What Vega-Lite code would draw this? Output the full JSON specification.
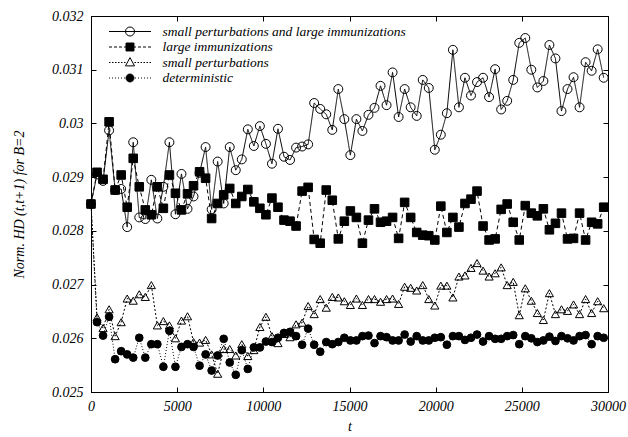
{
"$schema": "https://vega.github.io/schema/vega-lite/v6.json",
"width": 517, "height": 376,
"autosize": {"type": "none"},
"padding": {"left": 91, "top": 16, "right": 20, "bottom": 45},
"background": "white",
"data": {"values": [
{"t":0,"s":"A","v":0.02850},{"t":350,"s":"A","v":0.02905},{"t":700,"s":"A","v":0.02893},{"t":1050,"s":"A","v":0.02987},{"t":1400,"s":"A","v":0.02876},{"t":1750,"s":"A","v":0.02878},{"t":2100,"s":"A","v":0.02807},{"t":2450,"s":"A","v":0.02965},{"t":2800,"s":"A","v":0.02825},{"t":3150,"s":"A","v":0.02822},{"t":3500,"s":"A","v":0.02895},{"t":3850,"s":"A","v":0.02823},{"t":4200,"s":"A","v":0.02882},{"t":4550,"s":"A","v":0.02965},{"t":4900,"s":"A","v":0.02831},{"t":5250,"s":"A","v":0.02906},{"t":5600,"s":"A","v":0.02841},{"t":5950,"s":"A","v":0.02864},{"t":6300,"s":"A","v":0.02908},{"t":6650,"s":"A","v":0.02956},{"t":7000,"s":"A","v":0.02840},{"t":7350,"s":"A","v":0.02929},{"t":7700,"s":"A","v":0.02851},{"t":8050,"s":"A","v":0.02956},{"t":8400,"s":"A","v":0.02913},{"t":8750,"s":"A","v":0.02933},{"t":9100,"s":"A","v":0.02989},{"t":9450,"s":"A","v":0.02958},{"t":9800,"s":"A","v":0.02995},{"t":10150,"s":"A","v":0.02962},{"t":10500,"s":"A","v":0.02925},{"t":10850,"s":"A","v":0.02990},{"t":11200,"s":"A","v":0.02938},{"t":11550,"s":"A","v":0.02932},{"t":11900,"s":"A","v":0.02955},{"t":12250,"s":"A","v":0.02957},{"t":12600,"s":"A","v":0.02961},{"t":12950,"s":"A","v":0.03038},{"t":13300,"s":"A","v":0.03027},{"t":13650,"s":"A","v":0.03017},{"t":14000,"s":"A","v":0.02988},{"t":14350,"s":"A","v":0.03064},{"t":14700,"s":"A","v":0.03008},{"t":15050,"s":"A","v":0.02941},{"t":15400,"s":"A","v":0.03008},{"t":15750,"s":"A","v":0.02986},{"t":16100,"s":"A","v":0.03016},{"t":16450,"s":"A","v":0.03029},{"t":16800,"s":"A","v":0.03070},{"t":17150,"s":"A","v":0.03034},{"t":17500,"s":"A","v":0.03095},{"t":17850,"s":"A","v":0.03012},{"t":18200,"s":"A","v":0.03064},{"t":18550,"s":"A","v":0.03030},{"t":18900,"s":"A","v":0.03014},{"t":19250,"s":"A","v":0.03081},{"t":19600,"s":"A","v":0.03066},{"t":19950,"s":"A","v":0.02951},{"t":20300,"s":"A","v":0.02979},{"t":20650,"s":"A","v":0.03019},{"t":21000,"s":"A","v":0.03137},{"t":21350,"s":"A","v":0.03030},{"t":21700,"s":"A","v":0.03085},{"t":22050,"s":"A","v":0.03052},{"t":22400,"s":"A","v":0.03077},{"t":22750,"s":"A","v":0.03085},{"t":23100,"s":"A","v":0.03049},{"t":23450,"s":"A","v":0.03101},{"t":23800,"s":"A","v":0.03026},{"t":24150,"s":"A","v":0.03042},{"t":24500,"s":"A","v":0.03081},{"t":24850,"s":"A","v":0.03150},{"t":25200,"s":"A","v":0.03159},{"t":25550,"s":"A","v":0.03100},{"t":25900,"s":"A","v":0.03067},{"t":26250,"s":"A","v":0.03079},{"t":26600,"s":"A","v":0.03146},{"t":26950,"s":"A","v":0.03121},{"t":27300,"s":"A","v":0.03023},{"t":27650,"s":"A","v":0.03064},{"t":28000,"s":"A","v":0.03086},{"t":28350,"s":"A","v":0.03030},{"t":28700,"s":"A","v":0.03114},{"t":29050,"s":"A","v":0.03098},{"t":29400,"s":"A","v":0.03138},{"t":29750,"s":"A","v":0.03085},
{"t":0,"s":"L","v":0.02850},{"t":350,"s":"L","v":0.02909},{"t":700,"s":"L","v":0.02896},{"t":1050,"s":"L","v":0.03003},{"t":1400,"s":"L","v":0.02876},{"t":1750,"s":"L","v":0.02904},{"t":2100,"s":"L","v":0.02844},{"t":2450,"s":"L","v":0.02935},{"t":2800,"s":"L","v":0.02882},{"t":3150,"s":"L","v":0.02839},{"t":3500,"s":"L","v":0.02830},{"t":3850,"s":"L","v":0.02882},{"t":4200,"s":"L","v":0.02842},{"t":4550,"s":"L","v":0.02904},{"t":4900,"s":"L","v":0.02870},{"t":5250,"s":"L","v":0.02839},{"t":5600,"s":"L","v":0.02869},{"t":5950,"s":"L","v":0.02884},{"t":6300,"s":"L","v":0.02910},{"t":6650,"s":"L","v":0.02898},{"t":7000,"s":"L","v":0.02823},{"t":7350,"s":"L","v":0.02851},{"t":7700,"s":"L","v":0.02867},{"t":8050,"s":"L","v":0.02879},{"t":8400,"s":"L","v":0.02851},{"t":8750,"s":"L","v":0.02864},{"t":9100,"s":"L","v":0.02877},{"t":9450,"s":"L","v":0.02854},{"t":9800,"s":"L","v":0.02842},{"t":10150,"s":"L","v":0.02830},{"t":10500,"s":"L","v":0.02861},{"t":10850,"s":"L","v":0.02844},{"t":11200,"s":"L","v":0.02820},{"t":11550,"s":"L","v":0.02818},{"t":11900,"s":"L","v":0.02809},{"t":12250,"s":"L","v":0.02874},{"t":12600,"s":"L","v":0.02881},{"t":12950,"s":"L","v":0.02784},{"t":13300,"s":"L","v":0.02777},{"t":13650,"s":"L","v":0.02876},{"t":14000,"s":"L","v":0.02857},{"t":14350,"s":"L","v":0.02785},{"t":14700,"s":"L","v":0.02818},{"t":15050,"s":"L","v":0.02837},{"t":15400,"s":"L","v":0.02825},{"t":15750,"s":"L","v":0.02777},{"t":16100,"s":"L","v":0.02820},{"t":16450,"s":"L","v":0.02841},{"t":16800,"s":"L","v":0.02816},{"t":17150,"s":"L","v":0.02818},{"t":17500,"s":"L","v":0.02825},{"t":17850,"s":"L","v":0.02786},{"t":18200,"s":"L","v":0.02853},{"t":18550,"s":"L","v":0.02825},{"t":18900,"s":"L","v":0.02797},{"t":19250,"s":"L","v":0.02792},{"t":19600,"s":"L","v":0.02791},{"t":19950,"s":"L","v":0.02783},{"t":20300,"s":"L","v":0.02846},{"t":20650,"s":"L","v":0.02797},{"t":21000,"s":"L","v":0.02825},{"t":21350,"s":"L","v":0.02807},{"t":21700,"s":"L","v":0.02851},{"t":22050,"s":"L","v":0.02859},{"t":22400,"s":"L","v":0.02874},{"t":22750,"s":"L","v":0.02809},{"t":23100,"s":"L","v":0.02783},{"t":23450,"s":"L","v":0.02785},{"t":23800,"s":"L","v":0.02840},{"t":24150,"s":"L","v":0.02850},{"t":24500,"s":"L","v":0.02816},{"t":24850,"s":"L","v":0.02783},{"t":25200,"s":"L","v":0.02847},{"t":25550,"s":"L","v":0.02833},{"t":25900,"s":"L","v":0.02828},{"t":26250,"s":"L","v":0.02841},{"t":26600,"s":"L","v":0.02802},{"t":26950,"s":"L","v":0.02814},{"t":27300,"s":"L","v":0.02833},{"t":27650,"s":"L","v":0.02785},{"t":28000,"s":"L","v":0.02786},{"t":28350,"s":"L","v":0.02833},{"t":28700,"s":"L","v":0.02783},{"t":29050,"s":"L","v":0.02816},{"t":29400,"s":"L","v":0.02813},{"t":29750,"s":"L","v":0.02844},
{"t":0,"s":"P","v":0.02850},{"t":350,"s":"P","v":0.02639},{"t":700,"s":"P","v":0.02619},{"t":1050,"s":"P","v":0.02654},{"t":1400,"s":"P","v":0.02604},{"t":1750,"s":"P","v":0.02630},{"t":2100,"s":"P","v":0.02674},{"t":2450,"s":"P","v":0.02670},{"t":2800,"s":"P","v":0.02682},{"t":3150,"s":"P","v":0.02677},{"t":3500,"s":"P","v":0.02699},{"t":3850,"s":"P","v":0.02624},{"t":4200,"s":"P","v":0.02632},{"t":4550,"s":"P","v":0.02624},{"t":4900,"s":"P","v":0.02600},{"t":5250,"s":"P","v":0.02633},{"t":5600,"s":"P","v":0.02641},{"t":5950,"s":"P","v":0.02593},{"t":6300,"s":"P","v":0.02592},{"t":6650,"s":"P","v":0.02597},{"t":7000,"s":"P","v":0.02570},{"t":7350,"s":"P","v":0.02534},{"t":7700,"s":"P","v":0.02580},{"t":8050,"s":"P","v":0.02580},{"t":8400,"s":"P","v":0.02568},{"t":8750,"s":"P","v":0.02589},{"t":9100,"s":"P","v":0.02567},{"t":9450,"s":"P","v":0.02578},{"t":9800,"s":"P","v":0.02621},{"t":10150,"s":"P","v":0.02640},{"t":10500,"s":"P","v":0.02604},{"t":10850,"s":"P","v":0.02591},{"t":11200,"s":"P","v":0.02608},{"t":11550,"s":"P","v":0.02602},{"t":11900,"s":"P","v":0.02626},{"t":12250,"s":"P","v":0.02629},{"t":12600,"s":"P","v":0.02660},{"t":12950,"s":"P","v":0.02645},{"t":13300,"s":"P","v":0.02673},{"t":13650,"s":"P","v":0.02657},{"t":14000,"s":"P","v":0.02677},{"t":14350,"s":"P","v":0.02676},{"t":14700,"s":"P","v":0.02669},{"t":15050,"s":"P","v":0.02662},{"t":15400,"s":"P","v":0.02674},{"t":15750,"s":"P","v":0.02662},{"t":16100,"s":"P","v":0.02673},{"t":16450,"s":"P","v":0.02673},{"t":16800,"s":"P","v":0.02668},{"t":17150,"s":"P","v":0.02673},{"t":17500,"s":"P","v":0.02674},{"t":17850,"s":"P","v":0.02664},{"t":18200,"s":"P","v":0.02696},{"t":18550,"s":"P","v":0.02694},{"t":18900,"s":"P","v":0.02689},{"t":19250,"s":"P","v":0.02699},{"t":19600,"s":"P","v":0.02673},{"t":19950,"s":"P","v":0.02661},{"t":20300,"s":"P","v":0.02698},{"t":20650,"s":"P","v":0.02698},{"t":21000,"s":"P","v":0.02676},{"t":21350,"s":"P","v":0.02715},{"t":21700,"s":"P","v":0.02717},{"t":22050,"s":"P","v":0.02731},{"t":22400,"s":"P","v":0.02740},{"t":22750,"s":"P","v":0.02726},{"t":23100,"s":"P","v":0.02715},{"t":23450,"s":"P","v":0.02721},{"t":23800,"s":"P","v":0.02732},{"t":24150,"s":"P","v":0.02699},{"t":24500,"s":"P","v":0.02705},{"t":24850,"s":"P","v":0.02643},{"t":25200,"s":"P","v":0.02693},{"t":25550,"s":"P","v":0.02670},{"t":25900,"s":"P","v":0.02647},{"t":26250,"s":"P","v":0.02634},{"t":26600,"s":"P","v":0.02684},{"t":26950,"s":"P","v":0.02645},{"t":27300,"s":"P","v":0.02654},{"t":27650,"s":"P","v":0.02651},{"t":28000,"s":"P","v":0.02663},{"t":28350,"s":"P","v":0.02645},{"t":28700,"s":"P","v":0.02673},{"t":29050,"s":"P","v":0.02647},{"t":29400,"s":"P","v":0.02669},{"t":29750,"s":"P","v":0.02656},
{"t":0,"s":"D","v":0.02850},{"t":350,"s":"D","v":0.02630},{"t":700,"s":"D","v":0.02605},{"t":1050,"s":"D","v":0.02640},{"t":1400,"s":"D","v":0.02561},{"t":1750,"s":"D","v":0.02576},{"t":2100,"s":"D","v":0.02570},{"t":2450,"s":"D","v":0.02564},{"t":2800,"s":"D","v":0.02601},{"t":3150,"s":"D","v":0.02564},{"t":3500,"s":"D","v":0.02589},{"t":3850,"s":"D","v":0.02589},{"t":4200,"s":"D","v":0.02547},{"t":4550,"s":"D","v":0.02614},{"t":4900,"s":"D","v":0.02547},{"t":5250,"s":"D","v":0.02584},{"t":5600,"s":"D","v":0.02589},{"t":5950,"s":"D","v":0.02584},{"t":6300,"s":"D","v":0.02549},{"t":6650,"s":"D","v":0.02570},{"t":7000,"s":"D","v":0.02540},{"t":7350,"s":"D","v":0.02568},{"t":7700,"s":"D","v":0.02599},{"t":8050,"s":"D","v":0.02555},{"t":8400,"s":"D","v":0.02532},{"t":8750,"s":"D","v":0.02578},{"t":9100,"s":"D","v":0.02543},{"t":9450,"s":"D","v":0.02583},{"t":9800,"s":"D","v":0.02583},{"t":10150,"s":"D","v":0.02594},{"t":10500,"s":"D","v":0.02593},{"t":10850,"s":"D","v":0.02601},{"t":11200,"s":"D","v":0.02610},{"t":11550,"s":"D","v":0.02612},{"t":11900,"s":"D","v":0.02604},{"t":12250,"s":"D","v":0.02588},{"t":12600,"s":"D","v":0.02618},{"t":12950,"s":"D","v":0.02588},{"t":13300,"s":"D","v":0.02575},{"t":13650,"s":"D","v":0.02593},{"t":14000,"s":"D","v":0.02589},{"t":14350,"s":"D","v":0.02593},{"t":14700,"s":"D","v":0.02601},{"t":15050,"s":"D","v":0.02596},{"t":15400,"s":"D","v":0.02596},{"t":15750,"s":"D","v":0.02604},{"t":16100,"s":"D","v":0.02605},{"t":16450,"s":"D","v":0.02591},{"t":16800,"s":"D","v":0.02604},{"t":17150,"s":"D","v":0.02602},{"t":17500,"s":"D","v":0.02596},{"t":17850,"s":"D","v":0.02596},{"t":18200,"s":"D","v":0.02607},{"t":18550,"s":"D","v":0.02594},{"t":18900,"s":"D","v":0.02604},{"t":19250,"s":"D","v":0.02596},{"t":19600,"s":"D","v":0.02596},{"t":19950,"s":"D","v":0.02601},{"t":20300,"s":"D","v":0.02602},{"t":20650,"s":"D","v":0.02588},{"t":21000,"s":"D","v":0.02604},{"t":21350,"s":"D","v":0.02604},{"t":21700,"s":"D","v":0.02597},{"t":22050,"s":"D","v":0.02601},{"t":22400,"s":"D","v":0.02607},{"t":22750,"s":"D","v":0.02594},{"t":23100,"s":"D","v":0.02604},{"t":23450,"s":"D","v":0.02599},{"t":23800,"s":"D","v":0.02599},{"t":24150,"s":"D","v":0.02604},{"t":24500,"s":"D","v":0.02606},{"t":24850,"s":"D","v":0.02589},{"t":25200,"s":"D","v":0.02604},{"t":25550,"s":"D","v":0.02600},{"t":25900,"s":"D","v":0.02593},{"t":26250,"s":"D","v":0.02596},{"t":26600,"s":"D","v":0.02603},{"t":26950,"s":"D","v":0.02595},{"t":27300,"s":"D","v":0.02604},{"t":27650,"s":"D","v":0.02600},{"t":28000,"s":"D","v":0.02596},{"t":28350,"s":"D","v":0.02604},{"t":28700,"s":"D","v":0.02606},{"t":29050,"s":"D","v":0.02589},{"t":29400,"s":"D","v":0.02604},{"t":29750,"s":"D","v":0.02601}
]},
"layer": [
 {
  "mark": {"type": "line", "stroke": "black", "strokeWidth": 1},
  "encoding": {
   "x": {"field": "t", "type": "quantitative", "scale": {"domain": [0, 30000], "nice": false, "zero": false},
         "axis": {"orient": "bottom", "values": [0,5000,10000,15000,20000,25000,30000], "format": "d", "tickSize": -5, "labelPadding": 12, "labelFlush": false, "title": "t", "titlePadding": 6}},
   "y": {"field": "v", "type": "quantitative", "scale": {"domain": [0.025, 0.032], "nice": false, "zero": false},
         "axis": {"orient": "left", "values": [0.025,0.026,0.027,0.028,0.029,0.03,0.031,0.032], "format": ".3~f", "tickSize": -5, "labelPadding": 13, "title": "Norm. HD (t,t+1) for B=2", "titlePadding": 25}},
   "strokeDash": {"field": "s", "type": "nominal", "scale": {"domain": ["A","L","P","D"], "range": [[1,0],[4,3],[2,2],[1,2]]}, "legend": null}
  }
 },
 {
  "mark": {"type": "point", "stroke": "black", "strokeWidth": 1, "opacity": 1},
  "encoding": {
   "x": {"field": "t", "type": "quantitative", "axis": {"orient": "top", "values": [0,5000,10000,15000,20000,25000,30000], "labels": false, "tickSize": -5, "title": null, "domain": false}},
   "y": {"field": "v", "type": "quantitative", "axis": {"orient": "right", "values": [0.025,0.026,0.027,0.028,0.029,0.03,0.031,0.032], "labels": false, "tickSize": -5, "title": null, "domain": false}},
   "shape": {"field": "s", "type": "nominal", "scale": {"domain": ["A","L","P","D"], "range": ["circle","square","triangle-up","circle"]}, "legend": null},
   "fill": {"field": "s", "type": "nominal", "scale": {"domain": ["A","L","P","D"], "range": ["transparent","black","transparent","black"]}, "legend": null},
   "size": {"field": "s", "type": "ordinal", "scale": {"domain": ["A","L","P","D"], "range": [80,60,70,60]}, "legend": null}
  }
 },
 {
  "transform": [{"filter": "false"}],
  "mark": {"type": "point", "strokeWidth": 1, "opacity": 1},
  "encoding": {
   "shape": {"field": "s", "type": "nominal",
     "scale": {"domain": ["A","L","P","D"], "range": [
       "M-2.8,0L2.8,0M-0.6,0A0.6,0.6,0,1,0,0.6,0A0.6,0.6,0,1,0,-0.6,0Z",
       "M-2.8,0L-2.4,0M-2.13,0L-1.73,0M-1.47,0L-1.07,0M-0.8,0L-0.53,0M0.53,0L0.8,0M1.07,0L1.47,0M1.73,0L2.13,0M2.4,0L2.8,0M-0.53,-0.53L0.53,-0.53L0.53,0.53L-0.53,0.53Z",
       "M-2.8,0L-2.6,0M-2.4,0L-2.2,0M-2,0L-1.8,0M-1.6,0L-1.4,0M-1.2,0L-1,0M-0.8,0L-0.6,0M0.6,0L0.8,0M1,0L1.2,0M1.4,0L1.6,0M1.8,0L2,0M2.2,0L2.4,0M2.6,0L2.8,0M0,-0.65L0.6,0.45L-0.6,0.45Z",
       "M-2.8,0L-2.67,0M-2.4,0L-2.27,0M-2,0L-1.87,0M-1.6,0L-1.47,0M-1.2,0L-1.07,0M-0.8,0L-0.67,0M0.67,0L0.8,0M1.07,0L1.2,0M1.47,0L1.6,0M1.87,0L2,0M2.27,0L2.4,0M2.67,0L2.8,0M-0.53,0A0.53,0.53,0,1,0,0.53,0A0.53,0.53,0,1,0,-0.53,0Z"]},
     "legend": {"title": null, "orient": "none", "legendX": 31, "legendY": 7.5,
       "labelExpr": "datum.value == 'A' ? 'small perturbations and large immunizations' : datum.value == 'L' ? 'large immunizations' : datum.value == 'P' ? 'small perturbations' : 'deterministic'"}},
   "fill": {"field": "s", "type": "nominal", "scale": {"domain": ["A","L","P","D"], "range": ["transparent","black","transparent","black"]},
     "legend": {"title": null, "orient": "none", "legendX": 31, "legendY": 7.5,
       "labelExpr": "datum.value == 'A' ? 'small perturbations and large immunizations' : datum.value == 'L' ? 'large immunizations' : datum.value == 'P' ? 'small perturbations' : 'deterministic'"}},
   "stroke": {"field": "s", "type": "nominal", "scale": {"domain": ["A","L","P","D"], "range": ["black","black","black","black"]},
     "legend": {"title": null, "orient": "none", "legendX": 31, "legendY": 7.5,
       "labelExpr": "datum.value == 'A' ? 'small perturbations and large immunizations' : datum.value == 'L' ? 'large immunizations' : datum.value == 'P' ? 'small perturbations' : 'deterministic'"}}
  }
 }
],
"resolve": {"scale": {"shape": "independent", "fill": "independent", "stroke": "independent"}, "axis": {"x": "independent", "y": "independent"}},
"config": {
 "view": {"stroke": "black", "strokeWidth": 1},
 "axis": {"labelFont": "Liberation Serif", "labelFontStyle": "italic", "labelFontSize": 14, "labelColor": "black",
          "titleFont": "Liberation Serif", "titleFontStyle": "italic", "titleFontWeight": "normal", "titleFontSize": 14, "titleColor": "black",
          "domainColor": "black", "tickColor": "black", "grid": false, "domainWidth": 1, "tickWidth": 1},
 "legend": {"labelFont": "Liberation Serif", "labelFontStyle": "italic", "labelFontSize": 13.5, "labelColor": "black",
            "symbolSize": 225, "symbolStrokeWidth": 1, "labelOffset": 24.5, "rowPadding": 0.5, "padding": 0, "labelLimit": 400}
}
}
